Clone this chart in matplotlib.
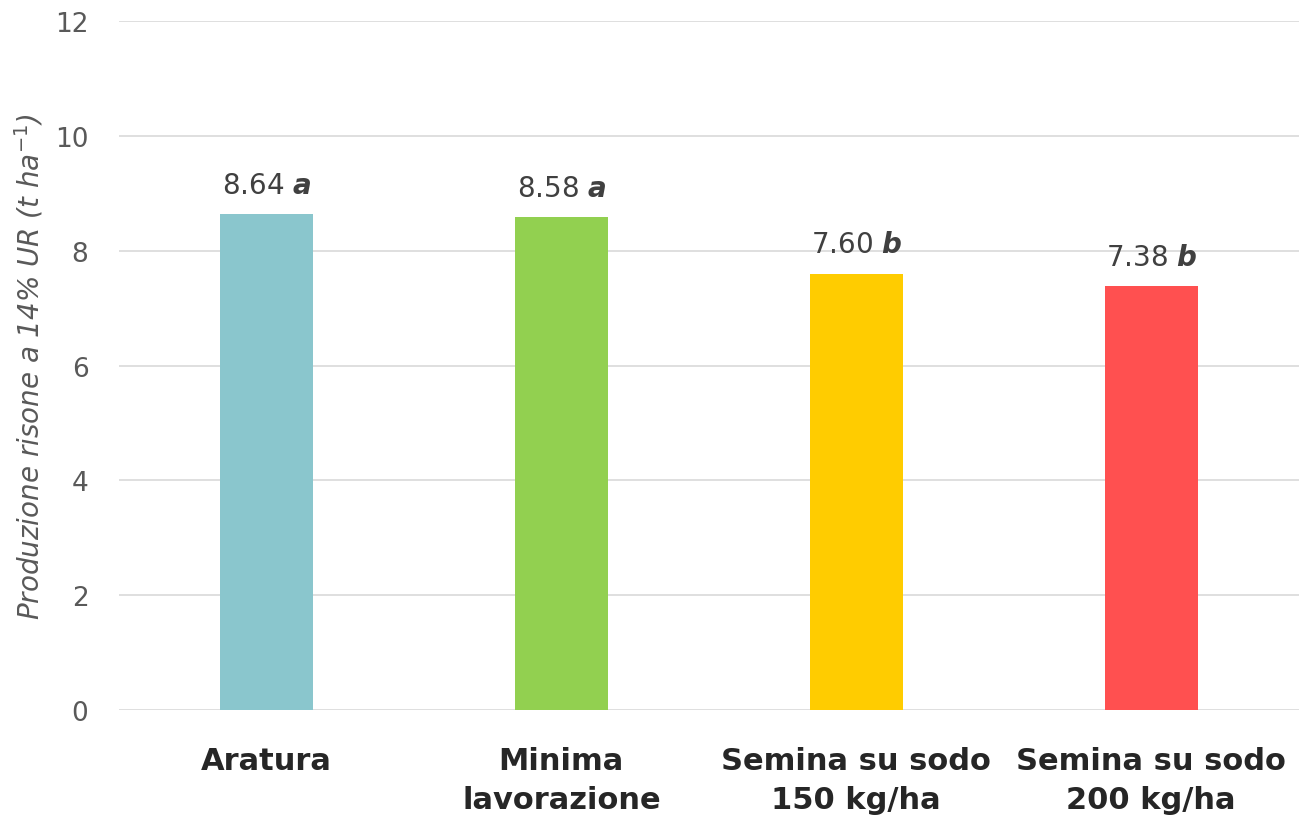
import matplotlib
matplotlib.use("Agg")
import matplotlib.pyplot as plt

categories = ["Aratura", "Minima\nlavorazione", "Semina su sodo\n150 kg/ha", "Semina su sodo\n200 kg/ha"]
values = [8.64, 8.58, 7.60, 7.38]
letters = ["a", "a", "b", "b"]
colors = ["#8AC6CD", "#92D050", "#FFCC00", "#FF5050"]
yticks = [0, 2, 4, 6, 8, 10, 12]

plt.rcParams['font.family'] = ['DejaVu Sans']

fig = plt.figure(figsize=(13, 8.28), dpi=100)
ax = fig.add_axes([0.0915, 0.1413, 0.9075, 0.8321])

x = list(range(len(categories)))
ax.bar(x, values, width=0.315, color=colors, zorder=3)

for xi, v, l in zip(x, values, letters):
    ax.annotate(f"{v:.2f} $\\boldsymbol{{{l}}}$", (xi, v), xytext=(0, 11), textcoords="offset points",
                ha="center", va="bottom", fontsize=20, color="#404040")

ax.set_xlim(-0.5, len(categories) - 0.5)
ax.set_ylim(0, 12)
ax.set_yticks(yticks)
ax.set_yticklabels([str(t) for t in yticks], fontsize=19, color="#595959")
ax.set_xticks(x)
ax.set_xticklabels(categories, fontsize=22, fontweight="bold", color="#262626", linespacing=1.45)
ax.tick_params(axis="both", length=0)
ax.tick_params(axis="x", pad=26)
ax.tick_params(axis="y", pad=22)
ax.grid(axis="y", color="#D9D9D9", linewidth=1.2, zorder=0)
for s in ax.spines.values():
    s.set_visible(False)

ax.set_ylabel("Produzione risone a 14% UR (t ha$^{-1}$)", fontsize=20, style="italic",
              color="#595959", labelpad=7)

fig.savefig("out.png", dpi=100)
